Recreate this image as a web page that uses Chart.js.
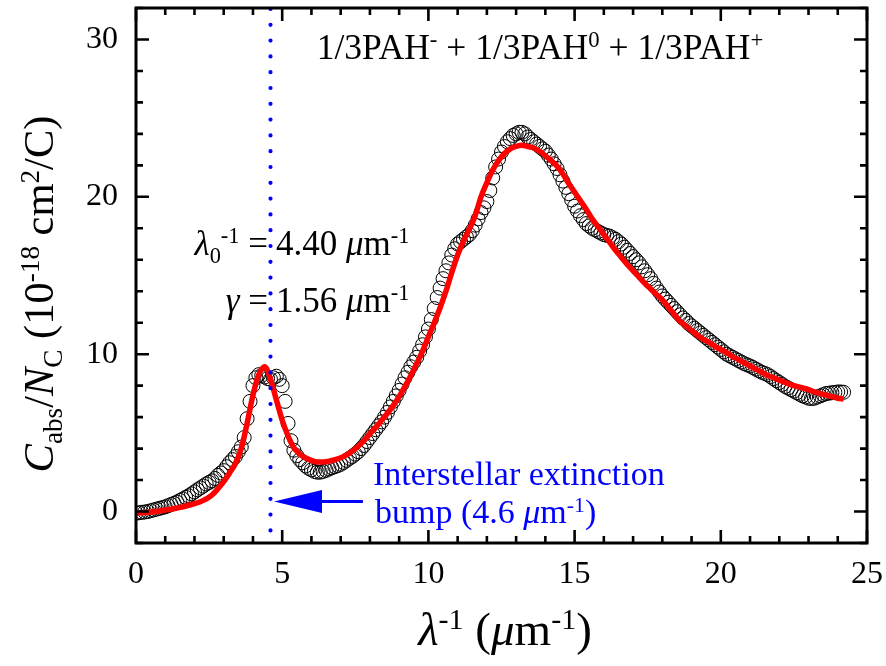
<!DOCTYPE html>
<html>
<head>
<meta charset="utf-8">
<title>PAH absorption</title>
<script src="https://cdn.jsdelivr.net/npm/chart.js@4.4.1/dist/chart.umd.min.js"></script>
<style>
  html, body { margin: 0; padding: 0; background: #fff; }
  canvas { display: block; }
</style>
</head>
<body>
<canvas id="chart" width="886" height="666"></canvas>
<script>
// --- DATA ---
// measured points: inverse wavelength (um^-1)
const dataWaveNumber = [
  0, 0.1, 0.2, 0.3, 0.4, 0.5, 0.6, 0.7, 0.8, 0.9,
  1, 1.1, 1.2, 1.3, 1.4, 1.5, 1.6, 1.7, 1.8, 1.9,
  2, 2.1, 2.2, 2.3, 2.4, 2.5, 2.6, 2.7, 2.8, 2.9,
  3, 3.1, 3.2, 3.3, 3.4, 3.5, 3.6, 3.7, 3.8, 3.9,
  4, 4.1, 4.2, 4.3, 4.4, 4.5, 4.6, 4.7, 4.8, 4.9,
  5, 5.1, 5.2, 5.3, 5.4, 5.5, 5.6, 5.7, 5.8, 5.9,
  6, 6.1, 6.2, 6.3, 6.4, 6.5, 6.6, 6.7, 6.8, 6.9,
  7, 7.1, 7.2, 7.3, 7.4, 7.5, 7.6, 7.7, 7.8, 7.9,
  8, 8.1, 8.2, 8.3, 8.4, 8.5, 8.6, 8.7, 8.8, 8.9,
  9, 9.1, 9.2, 9.3, 9.4, 9.5, 9.6, 9.7, 9.8, 9.9,
  10, 10.1, 10.2, 10.3, 10.4, 10.5, 10.6, 10.7, 10.8, 10.9,
  11, 11.1, 11.2, 11.3, 11.4, 11.5, 11.6, 11.7, 11.8, 11.9,
  12, 12.1, 12.2, 12.3, 12.4, 12.5, 12.6, 12.7, 12.8, 12.9,
  13, 13.1, 13.2, 13.3, 13.4, 13.5, 13.6, 13.7, 13.8, 13.9,
  14, 14.1, 14.2, 14.3, 14.4, 14.5, 14.6, 14.7, 14.8, 14.9,
  15, 15.1, 15.2, 15.3, 15.4, 15.5, 15.6, 15.7, 15.8, 15.9,
  16, 16.1, 16.2, 16.3, 16.4, 16.5, 16.6, 16.7, 16.8, 16.9,
  17, 17.1, 17.2, 17.3, 17.4, 17.5, 17.6, 17.7, 17.8, 17.9,
  18, 18.1, 18.2, 18.3, 18.4, 18.5, 18.6, 18.7, 18.8, 18.9,
  19, 19.1, 19.2, 19.3, 19.4, 19.5, 19.6, 19.7, 19.8, 19.9,
  20, 20.1, 20.2, 20.3, 20.4, 20.5, 20.6, 20.7, 20.8, 20.9,
  21, 21.1, 21.2, 21.3, 21.4, 21.5, 21.6, 21.7, 21.8, 21.9,
  22, 22.1, 22.2, 22.3, 22.4, 22.5, 22.6, 22.7, 22.8, 22.9,
  23, 23.1, 23.2, 23.3, 23.4, 23.5, 23.6, 23.7, 23.8, 23.9,
  24, 24.1, 24.2
];

// C_abs / N_C of the 1/3 + 1/3 + 1/3 mixture (open circles), 1e-18 cm^2/C
const absMixture = [
  -0.10, -0.08, -0.05, -0.03, 0.00, 0.05, 0.10, 0.15, 0.20, 0.25,
  0.30, 0.37, 0.45, 0.52, 0.60, 0.70, 0.80, 0.90, 1.00, 1.12,
  1.25, 1.38, 1.50, 1.62, 1.75, 1.85, 1.95, 2.10, 2.30, 2.45,
  2.60, 2.85, 3.10, 3.30, 3.50, 3.80, 4.10, 4.70, 5.90, 7.00,
  8.00, 8.50, 8.70, 8.65, 8.55, 8.45, 8.40, 8.50, 8.60, 8.40,
  8.00, 7.00, 5.60, 4.50, 3.90, 3.55, 3.30, 3.10, 2.90, 2.75,
  2.65, 2.55, 2.50, 2.50, 2.55, 2.62, 2.70, 2.78, 2.85, 2.92,
  3.00, 3.12, 3.25, 3.38, 3.50, 3.65, 3.80, 4.00, 4.20, 4.45,
  4.70, 4.95, 5.20, 5.45, 5.70, 6.00, 6.30, 6.65, 7.00, 7.35,
  7.70, 8.10, 8.50, 8.85, 9.20, 9.50, 9.80, 10.20, 10.60, 11.10,
  11.60, 12.20, 12.90, 13.60, 14.20, 14.80, 15.30, 15.80, 16.30, 16.70,
  17.00, 17.15, 17.30, 17.45, 17.60, 17.85, 18.20, 18.60, 19.00, 19.30,
  19.70, 20.40, 21.20, 21.90, 22.40, 22.85, 23.20, 23.50, 23.70, 23.90,
  24.00, 24.10, 24.10, 24.00, 23.80, 23.65, 23.50, 23.35, 23.20, 23.05,
  22.90, 22.65, 22.40, 22.10, 21.80, 21.40, 21.00, 20.60, 20.20, 19.80,
  19.40, 19.10, 18.80, 18.55, 18.30, 18.15, 18.00, 17.90, 17.80, 17.70,
  17.60, 17.55, 17.50, 17.40, 17.30, 17.15, 17.00, 16.80, 16.60, 16.40,
  16.20, 16.00, 15.80, 15.55, 15.30, 15.05, 14.80, 14.50, 14.20, 13.95,
  13.70, 13.50, 13.30, 13.10, 12.90, 12.70, 12.50, 12.30, 12.15, 11.95,
  11.80, 11.65, 11.50, 11.35, 11.20, 11.05, 10.90, 10.75, 10.60, 10.45,
  10.30, 10.15, 10.00, 9.90, 9.80, 9.70, 9.60, 9.50, 9.40, 9.32,
  9.25, 9.15, 9.05, 8.95, 8.85, 8.78, 8.70, 8.58, 8.45, 8.32,
  8.20, 8.08, 7.95, 7.85, 7.75, 7.65, 7.55, 7.45, 7.35, 7.28,
  7.20, 7.18, 7.20, 7.28, 7.35, 7.42, 7.50, 7.52, 7.55, 7.57,
  7.60, 7.60, 7.58
];

// fitted curve (red line)
const fitWaveNumber = [
  0, 0.2, 0.4, 0.6, 0.8, 1, 1.2, 1.4, 1.6, 1.8,
  2, 2.2, 2.4, 2.6, 2.8, 3, 3.2, 3.4, 3.6, 3.8,
  4, 4.2, 4.4, 4.6, 4.8, 5, 5.2, 5.4, 5.6, 5.8,
  6, 6.2, 6.4, 6.6, 6.8, 7, 7.2, 7.4, 7.6, 7.8,
  8, 8.2, 8.4, 8.6, 8.8, 9, 9.2, 9.4, 9.6, 9.8,
  10, 10.2, 10.4, 10.6, 10.8, 11, 11.2, 11.4, 11.6, 11.8,
  12, 12.2, 12.4, 12.6, 12.8, 13, 13.2, 13.4, 13.6, 13.8,
  14, 14.2, 14.4, 14.6, 14.8, 15, 15.2, 15.4, 15.6, 15.8,
  16, 16.2, 16.4, 16.6, 16.8, 17, 17.2, 17.4, 17.6, 17.8,
  18, 18.2, 18.4, 18.6, 18.8, 19, 19.2, 19.4, 19.6, 19.8,
  20, 20.2, 20.4, 20.6, 20.8, 21, 21.2, 21.4, 21.6, 21.8,
  22, 22.2, 22.4, 22.6, 22.8, 23, 23.2, 23.4, 23.6, 23.8,
  24, 24.2
];
const absFit = [
  -0.1, -0.08, -0.05, -0.02, 0.03, 0.1, 0.15, 0.22, 0.3, 0.4,
  0.5, 0.62, 0.8, 1.05, 1.45, 1.9, 2.45, 3.05, 4.0, 5.6,
  7.4, 8.7, 9.2, 8.4, 7.1, 5.8, 4.8, 4.05, 3.65, 3.4,
  3.25, 3.15, 3.15, 3.2, 3.3, 3.42, 3.6, 3.85, 4.15, 4.5,
  4.95, 5.35, 5.8, 6.25, 6.75, 7.3, 7.95, 8.65, 9.4, 10.2,
  11.1, 12.0, 12.95, 14.0, 15.2, 16.3, 17.2, 17.95, 18.8, 20.0,
  20.9, 21.7, 22.3, 22.75, 23.05, 23.2, 23.27, 23.2, 23.1, 22.9,
  22.6, 22.3, 21.95, 21.45, 20.85, 20.3, 19.75, 19.2, 18.6, 18.1,
  17.6, 17.1, 16.6, 16.15, 15.7, 15.3, 14.9, 14.5, 14.15, 13.8,
  13.45, 13.0, 12.55, 12.1, 11.8, 11.5, 11.2, 10.95, 10.75, 10.5,
  10.3, 10.1, 9.85, 9.65, 9.45, 9.25, 9.05, 8.85, 8.65, 8.5,
  8.35, 8.2, 8.05, 7.95, 7.85, 7.75, 7.6, 7.5, 7.4, 7.3,
  7.2, 7.15
];

const xTicks = [0, 5, 10, 15, 20, 25];
const yTicks = [0, 10, 20, 30];
const bumpPosition = 4.6;           // interstellar bump, um^-1
const arrowTail = [7.76, 0.63];
const arrowTip = [4.72, 0.63];

// --- HELPERS ---
const FONT = '"Liberation Serif", "Times New Roman", serif';

// draws a row of text pieces with sub/superscripts
function drawRich(ctx, runs, x, y, size, align) {
  const parts = runs.map(r => {
    const s = (r.sup || r.sub) ? size * 0.64 : size;
    const font = (r.it ? 'italic ' : '') + s + 'px ' + FONT;
    ctx.font = font;
    return {
      t: r.t, font,
      w: ctx.measureText(r.t).width,
      dy: r.sup ? -size * 0.33 : (r.sub ? size * 0.22 : 0)
    };
  });
  const total = parts.reduce((s, p) => s + p.w, 0);
  let cx = align === 'center' ? x - total / 2 : (align === 'right' ? x - total : x);
  ctx.textAlign = 'left';
  ctx.textBaseline = 'alphabetic';
  parts.forEach(p => {
    ctx.font = p.font;
    ctx.fillText(p.t, cx, y + p.dy);
    cx += p.w;
  });
}

const decorations = {
  id: 'decorations',
  afterDraw(chart) {
    const { ctx, chartArea: a, scales: { x, y } } = chart;
    ctx.save();

    // dotted line at the bump position
    const bx = x.getPixelForValue(bumpPosition);
    ctx.strokeStyle = '#0000ff';
    ctx.lineWidth = 4.2;
    ctx.lineCap = 'round';
    ctx.setLineDash([0, 15.8]);
    ctx.beginPath();
    ctx.moveTo(bx, a.top + 1);
    ctx.lineTo(bx, a.bottom);
    ctx.stroke();
    ctx.setLineDash([]);

    // arrow pointing at it
    const tx = x.getPixelForValue(arrowTail[0]);
    const px = x.getPixelForValue(arrowTip[0]);
    const py = y.getPixelForValue(arrowTip[1]);
    const headLen = 48, headHalf = 11.5;
    ctx.fillStyle = '#0000ff';
    ctx.lineWidth = 3;
    ctx.lineCap = 'butt';
    ctx.beginPath();
    ctx.moveTo(tx, y.getPixelForValue(arrowTail[1]));
    ctx.lineTo(px + headLen - 2, py);
    ctx.stroke();
    ctx.beginPath();
    ctx.moveTo(px, py);
    ctx.lineTo(px + headLen, py - headHalf);
    ctx.lineTo(px + headLen, py + headHalf);
    ctx.closePath();
    ctx.fill();

    // inward ticks on all four sides
    ctx.strokeStyle = '#000';
    ctx.lineWidth = 2.6;
    ctx.beginPath();
    for (let v = 0; v <= 25; v += 1) {
      const p = x.getPixelForValue(v);
      const len = v % 5 === 0 ? 13 : 7;
      ctx.moveTo(p, a.bottom); ctx.lineTo(p, a.bottom - len);
      ctx.moveTo(p, a.top); ctx.lineTo(p, a.top + len);
    }
    for (let v = -2; v <= 32; v += 2) {
      const p = y.getPixelForValue(v);
      const len = v % 10 === 0 ? 13 : 7;
      ctx.moveTo(a.left, p); ctx.lineTo(a.left + len, p);
      ctx.moveTo(a.right, p); ctx.lineTo(a.right - len, p);
    }
    ctx.stroke();

    // frame
    ctx.lineWidth = 3;
    ctx.strokeRect(a.left, a.top, a.right - a.left, a.bottom - a.top);

    // texts
    ctx.fillStyle = '#000';
    drawRich(ctx, [
      { t: '1/3PAH' }, { t: '-', sup: true }, { t: ' + 1/3PAH' }, { t: '0', sup: true },
      { t: ' + 1/3PAH' }, { t: '+', sup: true }
    ], 540, 59, 35.5, 'center');

    drawRich(ctx, [
      { t: 'λ', it: true }, { t: '0', sub: true }, { t: '-1', sup: true }, { t: ' =' }
    ], 268, 255, 35, 'right');
    drawRich(ctx, [
      { t: '4.40 ' }, { t: 'μ', it: true }, { t: 'm' }, { t: '-1', sup: true }
    ], 276, 255, 35, 'left');
    drawRich(ctx, [{ t: 'γ', it: true }, { t: ' =' }], 268, 312, 35, 'right');
    drawRich(ctx, [
      { t: '1.56 ' }, { t: 'μ', it: true }, { t: 'm' }, { t: '-1', sup: true }
    ], 276, 312, 35, 'left');

    ctx.fillStyle = '#0000ff';
    drawRich(ctx, [{ t: 'Interstellar extinction' }], 373, 485, 34, 'left');
    drawRich(ctx, [
      { t: 'bump (4.6 ' }, { t: 'μ', it: true }, { t: 'm' }, { t: '-1', sup: true }, { t: ')' }
    ], 375, 523, 34, 'left');

    // axis titles
    ctx.fillStyle = '#000';
    drawRich(ctx, [
      { t: 'λ', it: true }, { t: '-1', sup: true }, { t: ' (' }, { t: 'μ', it: true },
      { t: 'm' }, { t: '-1', sup: true }, { t: ')' }
    ], 505, 645, 47, 'center');

    ctx.translate(53, 294);
    ctx.rotate(-Math.PI / 2);
    drawRich(ctx, [
      { t: 'C', it: true }, { t: 'abs', sub: true }, { t: '/' }, { t: 'N', it: true },
      { t: 'C', sub: true }, { t: ' (10' }, { t: '-18', sup: true }, { t: ' cm' },
      { t: '2', sup: true }, { t: '/C)' }
    ], 0, 0, 42.5, 'center');

    ctx.restore();
  }
};

// --- CHART ---
const fitPoints = fitWaveNumber.map((v, i) => ({ x: v, y: absFit[i] }));
const mixPoints = dataWaveNumber.map((v, i) => ({ x: v, y: absMixture[i] }));

new Chart(document.getElementById('chart'), {
  type: 'scatter',
  data: {
    datasets: [
      {
        // first dataset is drawn on top
        label: 'Fit',
        data: fitPoints,
        showLine: true,
        borderColor: '#ff0000',
        borderWidth: 5.5,
        pointRadius: 0,
        cubicInterpolationMode: 'monotone'
      },
      {
        label: '1/3PAH- + 1/3PAH0 + 1/3PAH+',
        data: mixPoints,
        showLine: false,
        pointRadius: 7,
        pointBorderWidth: 1,
        pointBorderColor: '#000',
        pointBackgroundColor: 'rgba(0,0,0,0)'
      }
    ]
  },
  options: {
    responsive: false,
    animation: false,
    layout: { padding: { left: 0, right: 19, top: 5, bottom: 0 } },
    plugins: { legend: { display: false }, tooltip: { enabled: false } },
    scales: {
      x: {
        type: 'linear', min: 0, max: 25,
        grid: { display: false, drawTicks: false },
        border: { display: false },
        ticks: { color: '#000', font: { family: FONT, size: 32 }, padding: 12, maxRotation: 0, autoSkip: false },
        afterBuildTicks: s => { s.ticks = xTicks.map(v => ({ value: v })); },
        afterFit: s => { s.height = 123; s.paddingLeft = 0; s.paddingRight = 0; }
      },
      y: {
        type: 'linear', min: -2, max: 32,
        grid: { display: false, drawTicks: false },
        border: { display: false },
        ticks: { color: '#000', font: { family: FONT, size: 32 }, padding: 18, autoSkip: false },
        afterBuildTicks: s => { s.ticks = yTicks.map(v => ({ value: v })); },
        afterFit: s => { s.width = 136; s.paddingTop = 0; s.paddingBottom = 0; }
      }
    }
  },
  plugins: [decorations]
});
</script>
</body>
</html>
